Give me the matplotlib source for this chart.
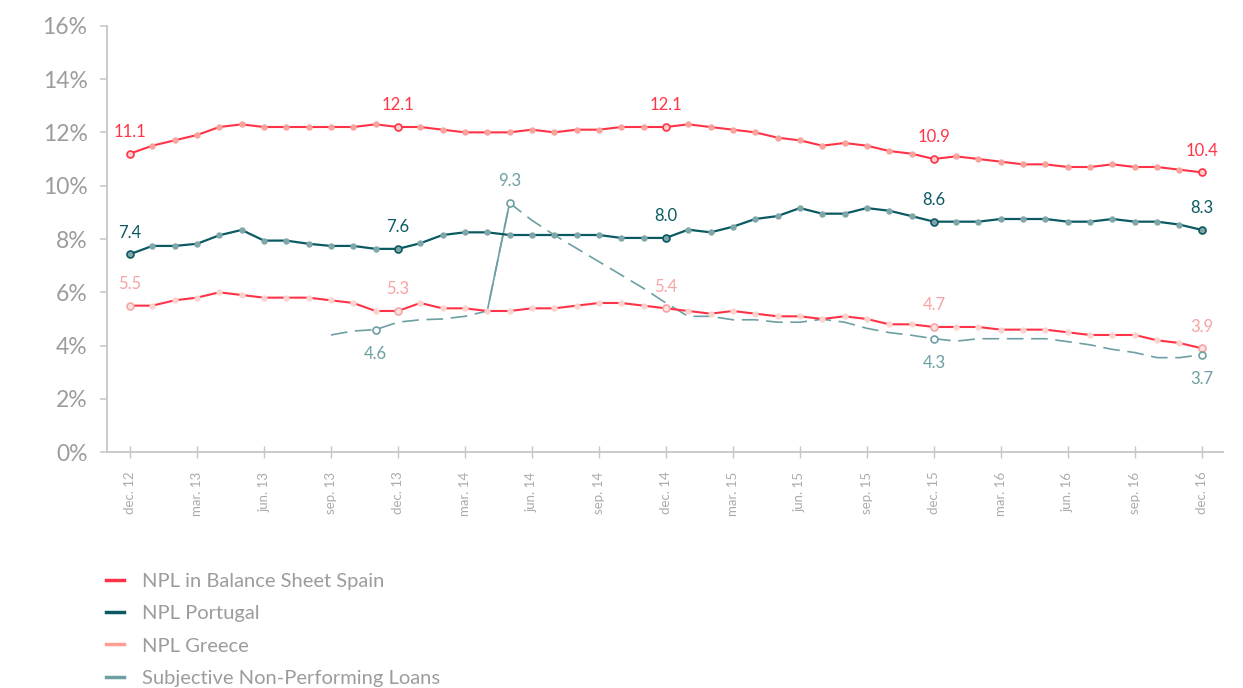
import numpy as np
import matplotlib
matplotlib.use("Agg")
import matplotlib.pyplot as plt
from matplotlib.lines import Line2D

plt.rcParams['font.family'] = ['Lato', 'DejaVu Sans']
plt.rcParams['lines.scale_dashes'] = False

# ---------------- data ----------------
months = list(range(49))  # dec 12 .. dec 16, monthly
tick_labels = ['dec. 12', 'mar. 13', 'jun. 13', 'sep. 13', 'dec. 13', 'mar. 14',
               'jun. 14', 'sep. 14', 'dec. 14', 'mar. 15', 'jun. 15', 'sep. 15',
               'dec. 15', 'mar. 16', 'jun. 16', 'sep. 16', 'dec. 16']

spain = [11.2, 11.5, 11.7, 11.9, 12.2, 12.3, 12.2, 12.2, 12.2, 12.2, 12.2, 12.3, 12.2,
         12.2, 12.1, 12.0, 12.0, 12.0, 12.1, 12.0, 12.1, 12.1, 12.2, 12.2, 12.2,
         12.3, 12.2, 12.1, 12.0, 11.8, 11.7, 11.5, 11.6, 11.5, 11.3, 11.2, 11.0,
         11.1, 11.0, 10.9, 10.8, 10.8, 10.7, 10.7, 10.8, 10.7, 10.7, 10.6, 10.5]
portugal = [7.43, 7.74, 7.74, 7.82, 8.14, 8.34, 7.94, 7.94, 7.82, 7.74, 7.74, 7.63, 7.63,
            7.84, 8.15, 8.25, 8.25, 8.15, 8.15, 8.15, 8.15, 8.15, 8.04, 8.04, 8.04, 8.35, 8.25,
            8.46, 8.75, 8.86, 9.16, 8.95, 8.95, 9.16, 9.06, 8.86, 8.65, 8.65, 8.65, 8.75,
            8.75, 8.75, 8.65, 8.65, 8.75, 8.65, 8.65, 8.54, 8.34]
greece = [5.5, 5.5, 5.7, 5.8, 6.0, 5.9, 5.8, 5.8, 5.8, 5.7, 5.6, 5.3, 5.3, 5.6,
          5.4, 5.4, 5.3, 5.3, 5.4, 5.4, 5.5, 5.6, 5.6, 5.5, 5.4, 5.3, 5.2,
          5.3, 5.2, 5.1, 5.1, 5.0, 5.1, 5.0, 4.8, 4.8, 4.7, 4.7, 4.7, 4.6,
          4.6, 4.6, 4.5, 4.4, 4.4, 4.4, 4.2, 4.1, 3.9]
subjective = [np.nan] * 9 + [4.4, 4.55, 4.6, 4.88, 4.97, 5.0, 5.1, 5.3, 9.35, 8.7, 8.15,
                             7.65, 7.15, 6.65, 6.15, 5.6, 5.1, 5.1, 4.97, 4.97, 4.88, 4.88,
                             4.99, 4.88, 4.65, 4.49, 4.39, 4.26, 4.17, 4.26, 4.26, 4.26,
                             4.26, 4.15, 4.03, 3.86, 3.74, 3.55, 3.55, 3.66]

spain_labels = {0: '11.1', 12: '12.1', 24: '12.1', 36: '10.9', 48: '10.4'}
portugal_labels = {0: '7.4', 12: '7.6', 24: '8.0', 36: '8.6', 48: '8.3'}
greece_labels = {0: '5.5', 12: '5.3', 24: '5.4', 36: '4.7', 48: '3.9'}
subjective_labels = {11: ('4.6', 'below'), 17: ('9.3', 'above'),
                     36: ('4.3', 'below'), 48: ('3.7', 'below')}

# ---------------- colours ----------------
RED = '#ff3347'
RED_DOT = '#f9a39c'
TEAL = '#0b5a63'
TEAL_DOT = '#7fa6a8'
PINK = '#ff9f98'
PINK_DOT = '#fdd3cf'
PINK_TXT = '#f7a4a4'
SUBJ = '#6d9fa3'
GRAY = '#9c9c9c'
AXC = '#c6c6c6'

fig = plt.figure(figsize=(12.43, 6.88), dpi=100)
ax = fig.add_axes([107 / 1243, 1 - 452.3 / 688, (1223 - 107) / 1243, (452.3 - 25.7) / 688])

x = np.array(months)

# subjective (dashed)
ax.plot(x, subjective, color=SUBJ, lw=1.2, ls=(0, (12, 5.5)), zorder=2)
ax.plot(x[16:18], subjective[16:18], color=SUBJ, lw=1.2, zorder=2)

# Greece
ax.plot(x, greece, color=RED, lw=1.5, zorder=3)
ax.plot(x, greece, ls='none', marker='o', ms=3.6, mfc=PINK_DOT, mec=PINK_DOT, zorder=4)
# Spain
ax.plot(x, spain, color=RED, lw=1.5, zorder=3)
ax.plot(x, spain, ls='none', marker='o', ms=3.6, mfc=RED_DOT, mec=RED_DOT, zorder=4)
# Portugal
ax.plot(x, portugal, color=TEAL, lw=1.6, zorder=3)
ax.plot(x, portugal, ls='none', marker='o', ms=3.6, mfc=TEAL_DOT, mec=TEAL_DOT, zorder=4)

# labelled markers and data labels
def label_series(vals, labels, face, edge, txtcol):
    for i, t in labels.items():
        pos = 'above'
        if isinstance(t, tuple):
            t, pos = t
        ax.plot(x[i], vals[i], marker='o', ms=5, mfc=face, mec=edge, mew=1.2, zorder=5)
        dy = 15.5 if pos == 'above' else -17.3
        ax.annotate(t, (x[i], vals[i]), xytext=(0, dy), textcoords='offset points',
                    ha='center', va='center', fontsize=12, color=txtcol, zorder=6)

label_series(spain, spain_labels, '#fbd0cc', RED, RED)
label_series(portugal, portugal_labels, TEAL_DOT, TEAL, TEAL)
label_series(greece, greece_labels, '#fde2df', PINK_TXT, PINK_TXT)
label_series(subjective, subjective_labels, 'white', SUBJ, SUBJ)

# axes styling
ax.set_xlim(-1.03, 48.95)
ax.set_ylim(0, 16)
ax.set_yticks(range(0, 17, 2))
ax.set_yticklabels([f'{v}%' for v in range(0, 17, 2)])
ax.set_xticks(x[::3])
ax.set_xticklabels(tick_labels, rotation=90)
for s in ['top', 'right']:
    ax.spines[s].set_visible(False)
for s in ['left', 'bottom']:
    ax.spines[s].set_color(AXC)
    ax.spines[s].set_linewidth(1.3)
ax.tick_params(axis='y', direction='out', length=5, width=1.1, color=AXC,
               labelsize=16.5, labelcolor=GRAY, pad=9)
ax.tick_params(axis='x', direction='inout', length=8, width=1.0, color=AXC,
               labelsize=9.5, labelcolor='#ababab', pad=10)

# legend
handles = [Line2D([], [], color=RED, lw=2.5),
           Line2D([], [], color=TEAL, lw=2.5),
           Line2D([], [], color=PINK, lw=2.5),
           Line2D([], [], color=SUBJ, lw=2.5)]
names = ['NPL in Balance Sheet Spain', 'NPL Portugal', 'NPL Greece',
         'Subjective Non-Performing Loans']
leg = fig.legend(handles, names, loc='upper left', bbox_to_anchor=(106 / 1243, 1 - 573 / 688),
                 frameon=False, fontsize=14.5, handlelength=0.9, handletextpad=0.9,
                 labelspacing=0.75, borderpad=0, borderaxespad=0)
for t in leg.get_texts():
    t.set_color(GRAY)

fig.savefig('out.png', dpi=100)
